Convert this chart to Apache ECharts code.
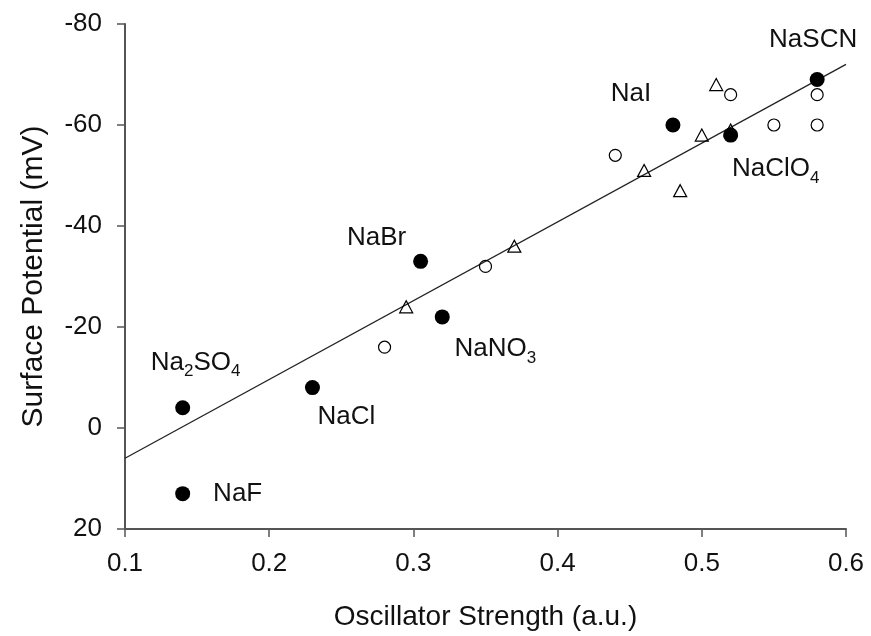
<!DOCTYPE html>
<html>
<head>
<meta charset="utf-8">
<script src="https://cdn.jsdelivr.net/npm/echarts@6/dist/echarts.min.js"></script>
<style>
  html, body { margin: 0; padding: 0; background: #fff; }
  #chart { width: 871px; height: 636px; }
</style>
</head>
<body>
<div id="chart"></div>
<script>
// labelled sodium salts (filled circles)
const saltNames = ['Na2SO4', 'NaF', 'NaCl', 'NaBr', 'NaNO3', 'NaI', 'NaClO4', 'NaSCN']
const saltX = [0.14, 0.14, 0.23, 0.305, 0.32, 0.48, 0.52, 0.58]
const saltY = [-4, 13, -8, -33, -22, -60, -58, -69]

// open circles
const circleX = [0.28, 0.35, 0.44, 0.52, 0.55, 0.58, 0.58]
const circleY = [-16, -32, -54, -66, -60, -66, -60]

// open triangles
const triX = [0.295, 0.37, 0.46, 0.485, 0.5, 0.51, 0.52]
const triY = [-24, -36, -51, -47, -58, -68, -59]

// linear fit
const fitX = [0.1, 0.6]
const fitY = [6, -72]

const xTicks = [0.1, 0.2, 0.3, 0.4, 0.5, 0.6]
const yTicks = [-80, -60, -40, -20, 0, 20]

// where each label sits relative to its point (px)
const labelOffsets = {
  Na2SO4: [13, -45],
  NaF: [55, 0],
  NaCl: [34, 29],
  NaBr: [-44, -24],
  NaNO3: [53, 32],
  NaI: [-42, -31],
  NaClO4: [45, 34],
  NaSCN: [-4, -40]
}

const font = 'Liberation Sans, Arial, Helvetica, sans-serif'

const pairs = (xs, ys) => xs.map((x, i) => [x, ys[i]])

const saltData = saltNames.map((name, i) => {
  return {
    name: name,
    value: [saltX[i], saltY[i]],
    label: {
      show: true,
      position: 'inside',
      offset: labelOffsets[name],
      formatter: name.replace(/(\d)/g, '{s|$1}')
    }
  }
})

const openStyle = {
  color: 'transparent',
  borderColor: '#000',
  borderWidth: 1.2,
  opacity: 1
}

const option = {
  animation: false,
  textStyle: { fontFamily: font },
  grid: { left: 125, right: 25, top: 24, bottom: 106 },
  xAxis: {
    type: 'value',
    min: xTicks[0],
    max: xTicks[xTicks.length - 1],
    interval: 0.1,
    name: 'Oscillator Strength (a.u.)',
    nameLocation: 'middle',
    nameGap: 74,
    nameTextStyle: { fontSize: 28, color: '#111', fontFamily: font },
    axisLine: { onZero: false, lineStyle: { color: '#555', width: 2 } },
    axisTick: { length: 8, lineStyle: { color: '#555', width: 1.5 } },
    axisLabel: {
      margin: 22,
      fontSize: 26,
      color: '#111',
      fontFamily: font,
      formatter: v => v.toFixed(1)
    },
    splitLine: { show: false }
  },
  yAxis: {
    type: 'value',
    inverse: true,
    min: yTicks[0],
    max: yTicks[yTicks.length - 1],
    interval: 20,
    name: 'Surface Potential (mV)',
    nameLocation: 'middle',
    nameGap: 76,
    nameTextStyle: { fontSize: 30, color: '#111', fontFamily: font },
    axisLine: { onZero: false, lineStyle: { color: '#555', width: 2 } },
    axisTick: { length: 8, lineStyle: { color: '#555', width: 1.5 } },
    axisLabel: { margin: 23, fontSize: 26, color: '#111', fontFamily: font },
    splitLine: { show: false }
  },
  series: [
    {
      type: 'line',
      data: pairs(fitX, fitY),
      symbol: 'none',
      lineStyle: { color: '#222', width: 1.3 },
      z: 1
    },
    {
      type: 'scatter',
      data: pairs(circleX, circleY),
      symbol: 'circle',
      symbolSize: 12,
      itemStyle: openStyle,
      z: 2
    },
    {
      type: 'scatter',
      data: pairs(triX, triY),
      symbol: 'triangle',
      symbolSize: [13, 12],
      itemStyle: openStyle,
      z: 2
    },
    {
      type: 'scatter',
      data: saltData,
      symbol: 'circle',
      symbolSize: 15,
      itemStyle: { color: '#000', opacity: 1 },
      label: {
        color: '#111',
        fontSize: 26,
        fontFamily: font,
        rich: {
          s: { fontSize: 17, fontFamily: font, color: '#111', padding: [18, 0, 0, 0] }
        }
      },
      z: 3
    }
  ]
}

const chart = echarts.init(document.getElementById('chart'))
chart.setOption(option)
</script>
</body>
</html>
